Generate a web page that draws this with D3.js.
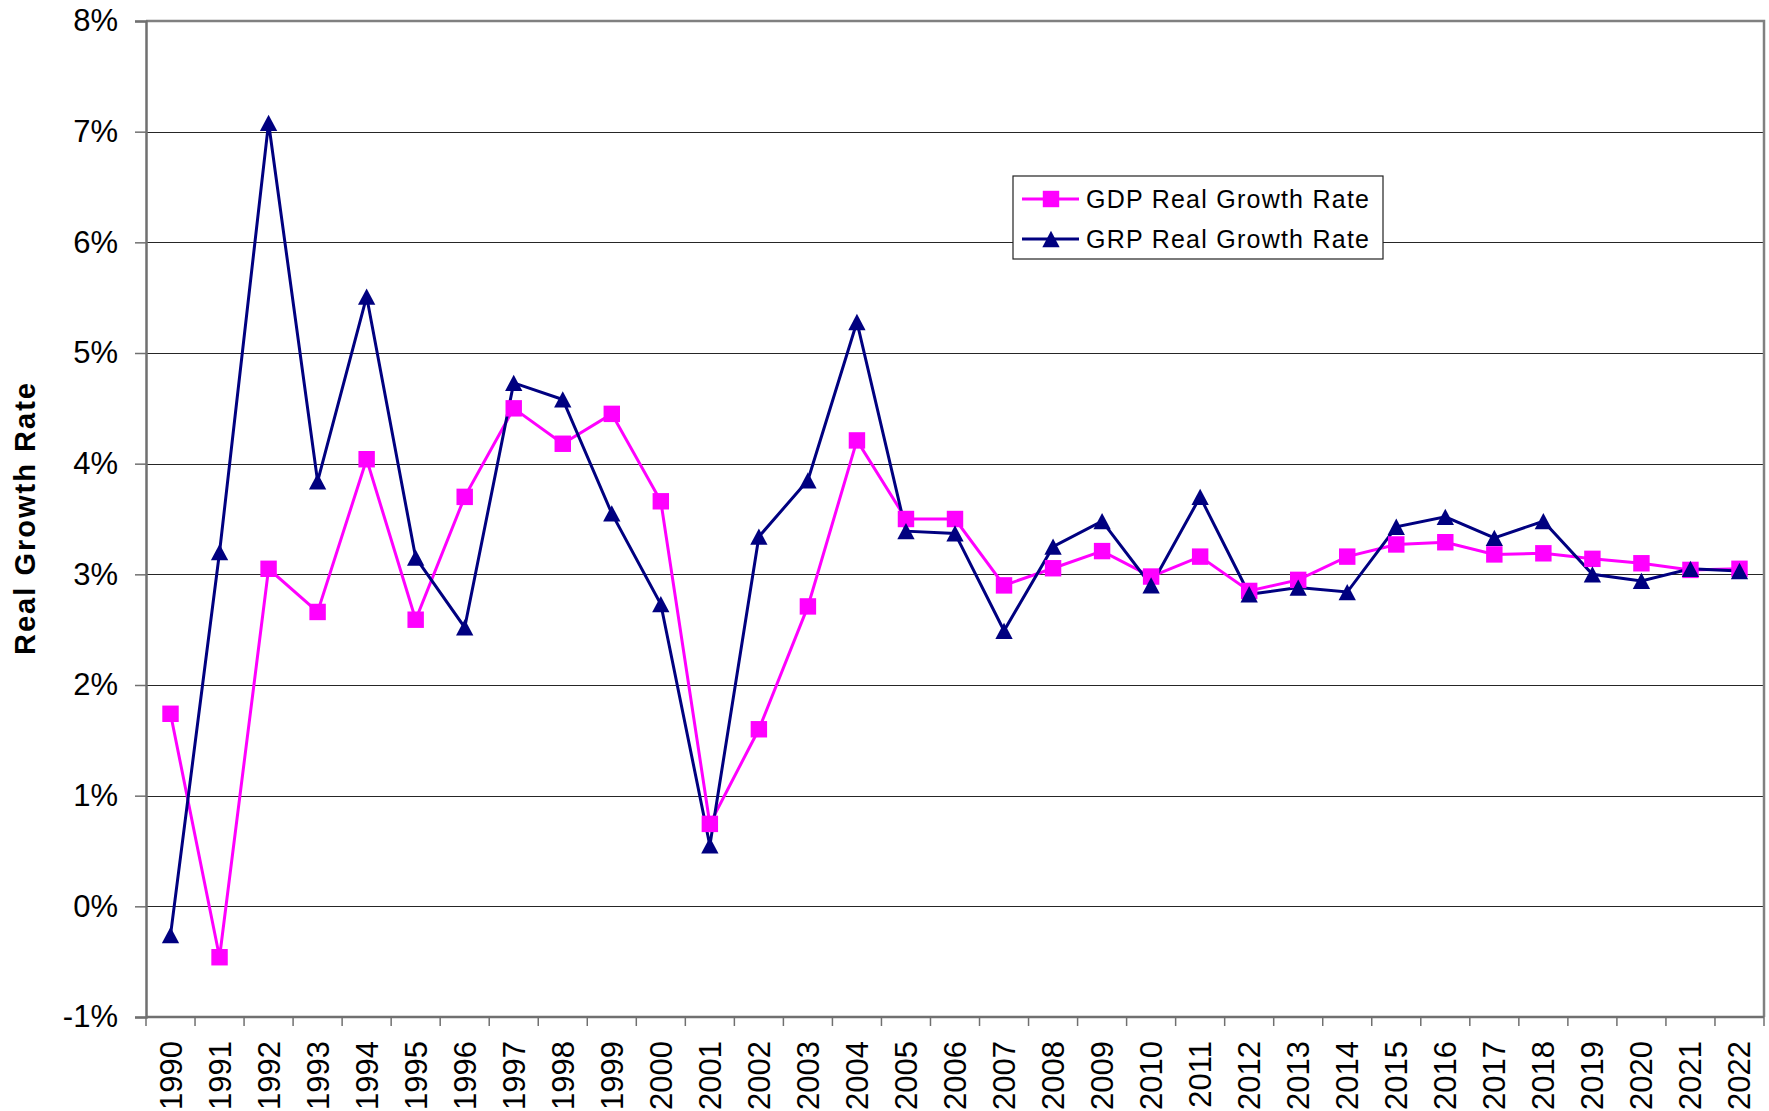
<!DOCTYPE html>
<html>
<head>
<meta charset="utf-8">
<script src="https://cdn.jsdelivr.net/npm/d3@7"></script>
<style>
  html, body { margin: 0; padding: 0; background: #fff; }
  svg { display: block; font-family: Arial, "Liberation Sans", sans-serif; }
</style>
</head>
<body>
<svg id="chart" width="1769" height="1111"></svg>
<script>
const years = ["1990","1991","1992","1993","1994","1995","1996","1997","1998","1999",
  "2000","2001","2002","2003","2004","2005","2006","2007","2008","2009","2010",
  "2011","2012","2013","2014","2015","2016","2017","2018","2019","2020","2021","2022"];

// GDP real growth rate (%)
const gdpValues = [1.74, -0.46, 3.05, 2.66, 4.04, 2.59, 3.70, 4.50, 4.18, 4.45,
  3.66, 0.745, 1.60, 2.71, 4.21, 3.50, 3.50, 2.90, 3.055, 3.21, 2.98,
  3.16, 2.85, 2.95, 3.16, 3.27, 3.29, 3.18, 3.19, 3.14, 3.10, 3.04, 3.05];

// GRP real growth rate (%)
const grpValues = [-0.26, 3.20, 7.08, 3.84, 5.51, 3.15, 2.52, 4.73, 4.58, 3.55,
  2.73, 0.55, 3.34, 3.85, 5.28, 3.39, 3.37, 2.49, 3.25, 3.48, 2.90,
  3.70, 2.82, 2.88, 2.84, 3.43, 3.52, 3.33, 3.48, 3.00, 2.94, 3.05, 3.03];

const yTicks = [-1, 0, 1, 2, 3, 4, 5, 6, 7, 8];

const seriesNames = ["GDP Real Growth Rate", "GRP Real Growth Rate"];
const seriesColors = ["#ff00ff", "#000080"];

const svg = d3.select("#chart");
const plotL = 146, plotR = 1764, plotT = 21, plotB = 1017;

const x = d3.scaleBand().domain(years).range([plotL, plotR]).padding(0);
const y = d3.scaleLinear().domain([-1, 8]).range([plotB, plotT]);
const cx = d => x(d) + x.bandwidth() / 2;

// custom triangle centred on its bounding box, like the Excel marker
const triangle = {
  draw(ctx, size) {
    const w = Math.sqrt(size), h = w * 0.94;
    ctx.moveTo(0, -h / 2);
    ctx.lineTo(w / 2, h / 2);
    ctx.lineTo(-w / 2, h / 2);
    ctx.closePath();
  }
};
const symbols = [d3.symbol().type(d3.symbolSquare).size(270), d3.symbol().type(triangle).size(300)];

// gridlines
svg.append("g")
  .selectAll("line")
  .data(yTicks.filter(t => t > -1 && t < 8))
  .join("line")
  .attr("x1", plotL).attr("x2", plotR)
  .attr("y1", d => Math.round(y(d)) + 0.5).attr("y2", d => Math.round(y(d)) + 0.5)
  .attr("stroke", "#262626").attr("stroke-width", 1.2);

// frame: top and right in grey
svg.append("path")
  .attr("d", `M${plotL},${plotT}H${plotR}V${plotB}`)
  .attr("fill", "none").attr("stroke", "#808080").attr("stroke-width", 2.5);

// y axis
const yAxis = d3.axisLeft(y).tickValues(yTicks).tickSize(11).tickPadding(17)
  .tickFormat(d => d + "%");
svg.append("g")
  .attr("transform", `translate(${plotL},0)`)
  .call(yAxis)
  .call(g => g.select(".domain").attr("stroke", "#707070").attr("stroke-width", 2.5))
  .call(g => g.selectAll(".tick line").attr("stroke", "#707070").attr("stroke-width", 1.5))
  .call(g => g.selectAll(".tick text")
    .attr("font-size", 31).attr("fill", "#000")
    .attr("font-family", "Arial, 'Liberation Sans', sans-serif"));

// x axis: ticks between categories
const xAxisG = svg.append("g");
xAxisG.append("line")
  .attr("x1", plotL).attr("x2", plotR).attr("y1", plotB).attr("y2", plotB)
  .attr("stroke", "#707070").attr("stroke-width", 2.5);
xAxisG.selectAll("line.tk")
  .data(years.concat(["end"]))
  .join("line")
  .attr("class", "tk")
  .attr("x1", d => d === "end" ? plotR : x(d))
  .attr("x2", d => d === "end" ? plotR : x(d))
  .attr("y1", plotB).attr("y2", plotB + 9)
  .attr("stroke", "#707070").attr("stroke-width", 1.5);
xAxisG.selectAll("text")
  .data(years)
  .join("text")
  .attr("transform", d => `translate(${cx(d) + 11},${plotB + 24}) rotate(-90)`)
  .attr("text-anchor", "end")
  .attr("font-size", 31)
  .attr("fill", "#000")
  .text(d => d);

// y title
svg.append("text")
  .attr("transform", `translate(35,${(plotT + plotB) / 2}) rotate(-90)`)
  .attr("text-anchor", "middle")
  .attr("font-size", 29)
  .attr("font-weight", "bold")
  .attr("textLength", 272)
  .attr("lengthAdjust", "spacing")
  .text("Real Growth Rate");

// series
const series = [gdpValues, grpValues];
const line = d3.line().x((d, i) => cx(years[i])).y(d => y(d));

series.forEach((vals, s) => {
  svg.append("path")
    .datum(vals)
    .attr("d", line)
    .attr("fill", "none")
    .attr("stroke", seriesColors[s])
    .attr("stroke-width", 3)
    .attr("stroke-linejoin", "miter");
});

series.forEach((vals, s) => {
  svg.append("g")
    .selectAll("path")
    .data(vals)
    .join("path")
    .attr("d", symbols[s])
    .attr("transform", (d, i) => `translate(${cx(years[i])},${y(d)})`)
    .attr("fill", seriesColors[s]);
});

// legend
const legend = svg.append("g").attr("transform", "translate(1013,176)");
legend.append("rect")
  .attr("width", 370).attr("height", 83)
  .attr("fill", "#fff").attr("stroke", "#222").attr("stroke-width", 1.2);
const rows = legend.selectAll("g.row")
  .data(seriesNames)
  .join("g")
  .attr("class", "row")
  .attr("transform", (d, i) => `translate(0,${23 + i * 40})`);
rows.append("line")
  .attr("x1", 9).attr("x2", 66)
  .attr("stroke", (d, i) => seriesColors[i]).attr("stroke-width", 3);
rows.append("path")
  .attr("d", (d, i) => symbols[i]())
  .attr("transform", "translate(38,0)")
  .attr("fill", (d, i) => seriesColors[i]);
rows.append("text")
  .attr("x", 73).attr("y", 9)
  .attr("font-size", 25)
  .attr("textLength", 283)
  .attr("lengthAdjust", "spacing")
  .text(d => d);
</script>
</body>
</html>
